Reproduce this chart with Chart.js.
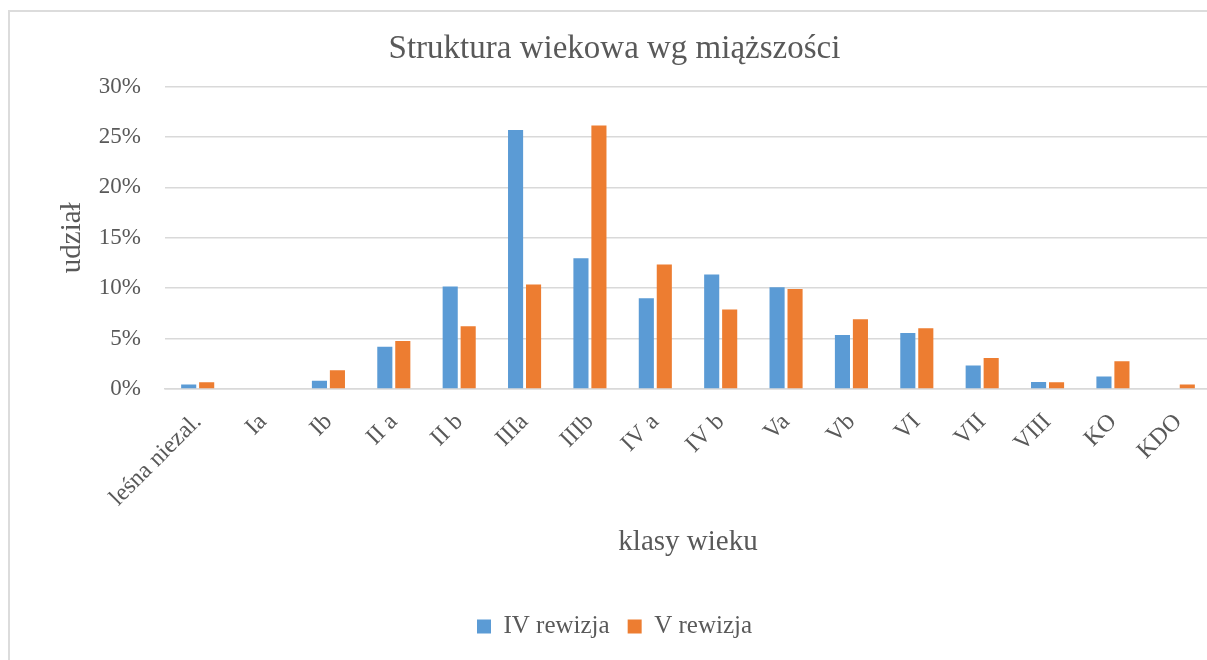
<!DOCTYPE html>
<html>
<head>
<meta charset="utf-8">
<script src="https://cdn.jsdelivr.net/npm/chart.js@4"></script>
<style>
    html, body { margin: 0; padding: 0; background: #fff; overflow: hidden; width: 1207px; height: 660px; }
    #frame {
        position: absolute; left: 8px; top: 10px;
        width: 1213px; height: 662px;
        box-sizing: border-box;
        border: 2px solid #dcdcdc;
        background: #fff;
    }
    #frame canvas { display: block; }
</style>
</head>
<body>
<div id="frame"><canvas id="barChart" width="1209" height="658"></canvas></div>
<script>
const categories = ['leśna niezal.', 'Ia', 'Ib', 'II a', 'II b', 'IIIa', 'IIIb', 'IV a', 'IV b', 'Va', 'Vb', 'VI', 'VII', 'VIII', 'KO', 'KDO'];
const rev4 = [0.44, 0, 0.83, 4.2, 10.17, 25.7, 12.98, 9.0, 11.36, 10.1, 5.36, 5.56, 2.32, 0.7, 1.23, 0];
const rev5 = [0.67, 0, 1.86, 4.77, 6.23, 10.37, 26.15, 12.35, 7.88, 9.93, 6.92, 6.03, 3.08, 0.67, 2.75, 0.44];
const seriesNames = ['IV rewizja', 'V rewizja'];

const textColor = '#595959';
const gridColor = '#d9d9d9';
const serif = "'Liberation Serif', serif";

Chart.defaults.font.family = serif;
Chart.defaults.color = textColor;

const chart = new Chart(document.getElementById('barChart'), {
    type: 'bar',
    data: {
        labels: categories,
        datasets: [{
            label: seriesNames[0],
            data: rev4,
            backgroundColor: '#5b9bd5',
            categoryPercentage: 0.55,
            barPercentage: 0.84,
        }, {
            label: seriesNames[1],
            data: rev5,
            backgroundColor: '#ed7d31',
            categoryPercentage: 0.55,
            barPercentage: 0.84,
        }],
    },
    options: {
        responsive: false,
        animation: false,
        layout: {
            padding: { left: 8, right: 8, top: 0, bottom: 21 }
        },
        plugins: {
            tooltip: { enabled: false },
            title: {
                display: true,
                text: 'Struktura wiekowa wg miąższości',
                color: textColor,
                font: { size: 33, weight: 'normal' },
                padding: { top: 18, bottom: 17 }
            },
            legend: {
                position: 'bottom',
                labels: {
                    color: textColor,
                    font: { size: 25 },
                    boxWidth: 14,
                    boxHeight: 14,
                    padding: 18
                }
            }
        },
        scales: {
            x: {
                grid: { display: false, drawTicks: false },
                border: { display: true, color: gridColor, width: 1.5 },
                ticks: {
                    autoSkip: false,
                    minRotation: 45,
                    maxRotation: 45,
                    padding: 19,
                    color: textColor,
                    font: { size: 24 }
                },
                title: {
                    display: true,
                    text: 'klasy wieku',
                    color: textColor,
                    font: { size: 29 },
                    padding: { top: 4, bottom: 36 }
                },
                afterFit: (scale) => { scale.height = 207; }
            },
            y: {
                min: 0,
                max: 30,
                grid: { color: gridColor, lineWidth: 1.5, drawTicks: false },
                border: { display: false },
                ticks: {
                    stepSize: 5,
                    padding: 24,
                    color: textColor,
                    font: { size: 23 },
                    callback: (v) => v + '%'
                },
                title: {
                    display: true,
                    text: 'udział',
                    color: textColor,
                    font: { size: 29 },
                    padding: { top: 37, bottom: 4 }
                },
                afterFit: (scale) => { scale.width = 147; }
            }
        }
    }
});
</script>
</body>
</html>
